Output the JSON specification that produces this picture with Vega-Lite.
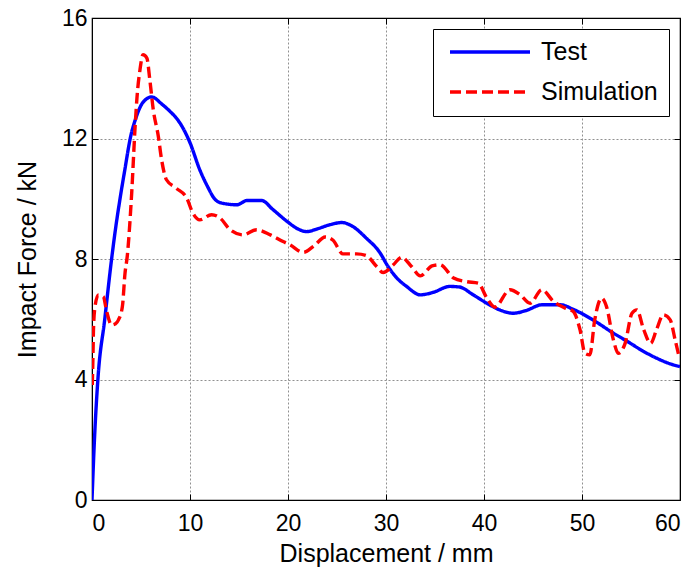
{
  "$schema": "https://vega.github.io/schema/vega-lite/v6.json",
  "width": 588,
  "height": 482,
  "autosize": {"type": "none"},
  "padding": {"left": 92, "top": 18, "right": 14, "bottom": 73},
  "background": "white",
  "config": {
    "font": "Liberation Sans",
    "view": {"stroke": "black", "strokeWidth": 1.2},
    "axis": {
      "labelFont": "Liberation Sans",
      "titleFont": "Liberation Sans",
      "labelFontSize": 23,
      "titleFontSize": 25,
      "titleFontWeight": "normal",
      "labelColor": "black",
      "titleColor": "black",
      "domainColor": "black",
      "tickColor": "black",
      "tickSize": -6,
      "gridColor": "#909090",
      "gridDash": [2, 2],
      "gridWidth": 1,
      "gridOpacity": 1
    },
    "legend": {
      "labelFont": "Liberation Sans",
      "labelFontSize": 25,
      "labelColor": "black"
    }
  },
  "data": {
    "values": [
      {"series": "Test", "x": 0, "y": 0},
      {"series": "Test", "x": 0.25, "y": 2},
      {"series": "Test", "x": 0.6, "y": 4},
      {"series": "Test", "x": 1.3, "y": 6},
      {"series": "Test", "x": 2.0, "y": 8},
      {"series": "Test", "x": 2.4, "y": 9},
      {"series": "Test", "x": 2.86, "y": 10},
      {"series": "Test", "x": 3.37, "y": 11},
      {"series": "Test", "x": 3.9, "y": 12},
      {"series": "Test", "x": 4.5, "y": 12.7},
      {"series": "Test", "x": 5.2, "y": 13.2},
      {"series": "Test", "x": 6.1, "y": 13.38},
      {"series": "Test", "x": 7.1, "y": 13.15},
      {"series": "Test", "x": 7.96, "y": 12.9},
      {"series": "Test", "x": 8.6, "y": 12.68},
      {"series": "Test", "x": 9.0, "y": 12.5},
      {"series": "Test", "x": 10.0, "y": 11.86},
      {"series": "Test", "x": 11.0, "y": 10.96},
      {"series": "Test", "x": 11.8, "y": 10.4},
      {"series": "Test", "x": 12.5, "y": 10.0},
      {"series": "Test", "x": 13.2, "y": 9.86},
      {"series": "Test", "x": 14.8, "y": 9.8},
      {"series": "Test", "x": 15.8, "y": 9.94},
      {"series": "Test", "x": 17.3, "y": 9.94},
      {"series": "Test", "x": 18.5, "y": 9.63},
      {"series": "Test", "x": 19.9, "y": 9.25},
      {"series": "Test", "x": 21.0, "y": 9.0},
      {"series": "Test", "x": 21.9, "y": 8.91},
      {"series": "Test", "x": 22.9, "y": 8.99},
      {"series": "Test", "x": 24.3, "y": 9.14},
      {"series": "Test", "x": 25.5, "y": 9.21},
      {"series": "Test", "x": 26.5, "y": 9.1},
      {"series": "Test", "x": 28.0, "y": 8.69},
      {"series": "Test", "x": 29.4, "y": 8.2},
      {"series": "Test", "x": 30.1, "y": 7.81},
      {"series": "Test", "x": 31.1, "y": 7.37},
      {"series": "Test", "x": 32.1, "y": 7.09},
      {"series": "Test", "x": 33.5, "y": 6.81},
      {"series": "Test", "x": 34.8, "y": 6.89},
      {"series": "Test", "x": 36.5, "y": 7.09},
      {"series": "Test", "x": 37.5, "y": 7.07},
      {"series": "Test", "x": 38.9, "y": 6.81},
      {"series": "Test", "x": 40.3, "y": 6.53},
      {"series": "Test", "x": 41.6, "y": 6.31},
      {"series": "Test", "x": 43.0, "y": 6.2},
      {"series": "Test", "x": 44.3, "y": 6.29},
      {"series": "Test", "x": 45.9, "y": 6.48},
      {"series": "Test", "x": 47.8, "y": 6.48},
      {"series": "Test", "x": 49.1, "y": 6.33},
      {"series": "Test", "x": 51.1, "y": 5.98},
      {"series": "Test", "x": 53.2, "y": 5.54},
      {"series": "Test", "x": 54.5, "y": 5.29},
      {"series": "Test", "x": 56.3, "y": 4.93},
      {"series": "Test", "x": 57.6, "y": 4.71},
      {"series": "Test", "x": 59.0, "y": 4.52},
      {"series": "Test", "x": 60.0, "y": 4.43},
      {"series": "Simulation", "x": 0.03, "y": 3.82},
      {"series": "Simulation", "x": 0.1, "y": 4.8},
      {"series": "Simulation", "x": 0.15, "y": 5.65},
      {"series": "Simulation", "x": 0.3, "y": 6.4},
      {"series": "Simulation", "x": 0.65, "y": 6.81},
      {"series": "Simulation", "x": 1.15, "y": 6.75},
      {"series": "Simulation", "x": 1.5, "y": 6.26},
      {"series": "Simulation", "x": 2.0, "y": 5.81},
      {"series": "Simulation", "x": 2.4, "y": 5.85},
      {"series": "Simulation", "x": 2.7, "y": 5.98},
      {"series": "Simulation", "x": 3.1, "y": 6.42},
      {"series": "Simulation", "x": 3.37, "y": 7.53},
      {"series": "Simulation", "x": 3.6, "y": 8.1},
      {"series": "Simulation", "x": 4.05, "y": 10.19},
      {"series": "Simulation", "x": 4.4, "y": 12.4},
      {"series": "Simulation", "x": 4.6, "y": 13.4},
      {"series": "Simulation", "x": 4.9, "y": 14.29},
      {"series": "Simulation", "x": 5.2, "y": 14.78},
      {"series": "Simulation", "x": 5.6, "y": 14.67},
      {"series": "Simulation", "x": 5.9, "y": 13.95},
      {"series": "Simulation", "x": 6.25, "y": 12.96},
      {"series": "Simulation", "x": 6.77, "y": 12.07},
      {"series": "Simulation", "x": 7.1, "y": 11.3},
      {"series": "Simulation", "x": 7.6, "y": 10.63},
      {"series": "Simulation", "x": 8.6, "y": 10.35},
      {"series": "Simulation", "x": 9.67, "y": 10.02},
      {"series": "Simulation", "x": 10.3, "y": 9.52},
      {"series": "Simulation", "x": 11.0, "y": 9.3},
      {"series": "Simulation", "x": 12.2, "y": 9.47},
      {"series": "Simulation", "x": 13.06, "y": 9.36},
      {"series": "Simulation", "x": 14.1, "y": 8.97},
      {"series": "Simulation", "x": 15.4, "y": 8.8},
      {"series": "Simulation", "x": 16.8, "y": 8.97},
      {"series": "Simulation", "x": 18.2, "y": 8.8},
      {"series": "Simulation", "x": 19.5, "y": 8.58},
      {"series": "Simulation", "x": 20.2, "y": 8.47},
      {"series": "Simulation", "x": 21.56, "y": 8.22},
      {"series": "Simulation", "x": 22.6, "y": 8.42},
      {"series": "Simulation", "x": 23.8, "y": 8.73},
      {"series": "Simulation", "x": 24.6, "y": 8.62},
      {"series": "Simulation", "x": 25.6, "y": 8.17},
      {"series": "Simulation", "x": 27.0, "y": 8.17},
      {"series": "Simulation", "x": 28.0, "y": 8.11},
      {"series": "Simulation", "x": 29.05, "y": 7.75},
      {"series": "Simulation", "x": 29.7, "y": 7.55},
      {"series": "Simulation", "x": 30.75, "y": 7.81},
      {"series": "Simulation", "x": 31.6, "y": 8.06},
      {"series": "Simulation", "x": 32.6, "y": 7.75},
      {"series": "Simulation", "x": 33.5, "y": 7.44},
      {"series": "Simulation", "x": 34.7, "y": 7.77},
      {"series": "Simulation", "x": 35.5, "y": 7.81},
      {"series": "Simulation", "x": 36.9, "y": 7.37},
      {"series": "Simulation", "x": 38.2, "y": 7.25},
      {"series": "Simulation", "x": 39.4, "y": 7.2},
      {"series": "Simulation", "x": 40.3, "y": 6.7},
      {"series": "Simulation", "x": 41.1, "y": 6.4},
      {"series": "Simulation", "x": 42.65, "y": 6.98},
      {"series": "Simulation", "x": 43.7, "y": 6.81},
      {"series": "Simulation", "x": 44.7, "y": 6.53},
      {"series": "Simulation", "x": 45.9, "y": 6.98},
      {"series": "Simulation", "x": 47.1, "y": 6.59},
      {"series": "Simulation", "x": 48.3, "y": 6.37},
      {"series": "Simulation", "x": 49.1, "y": 6.26},
      {"series": "Simulation", "x": 49.8, "y": 5.65},
      {"series": "Simulation", "x": 50.3, "y": 4.87},
      {"series": "Simulation", "x": 50.8, "y": 4.82},
      {"series": "Simulation", "x": 51.3, "y": 5.98},
      {"series": "Simulation", "x": 52.0, "y": 6.7},
      {"series": "Simulation", "x": 52.5, "y": 6.42},
      {"series": "Simulation", "x": 53.2, "y": 5.32},
      {"series": "Simulation", "x": 53.7, "y": 4.87},
      {"series": "Simulation", "x": 54.4, "y": 5.2},
      {"series": "Simulation", "x": 55.1, "y": 6.2},
      {"series": "Simulation", "x": 55.6, "y": 6.31},
      {"series": "Simulation", "x": 56.3, "y": 5.65},
      {"series": "Simulation", "x": 57.0, "y": 5.2},
      {"series": "Simulation", "x": 57.6, "y": 5.65},
      {"series": "Simulation", "x": 58.3, "y": 6.15},
      {"series": "Simulation", "x": 59.0, "y": 5.98},
      {"series": "Simulation", "x": 59.5, "y": 5.32},
      {"series": "Simulation", "x": 59.9, "y": 4.76}
    ]
  },
  "layer": [
    {
      "mark": {"type": "line", "strokeWidth": 3.4, "interpolate": "monotone", "clip": true},
      "encoding": {
        "x": {
          "field": "x", "type": "quantitative",
          "scale": {"domain": [0, 60], "nice": false, "zero": false},
          "axis": {"title": "Displacement / mm", "values": [0, 10, 20, 30, 40, 50, 60], "labelPadding": 18, "titlePadding": 6, "grid": true}
        },
        "y": {
          "field": "y", "type": "quantitative",
          "scale": {"domain": [0, 16], "nice": false, "zero": false},
          "axis": {"title": "Impact Force / kN", "values": [0, 4, 8, 12, 16], "labelPadding": 11, "titlePadding": 21, "grid": true}
        },
        "color": {
          "field": "series", "type": "nominal",
          "scale": {"domain": ["Test", "Simulation"], "range": ["#0000ff", "#ff0000"]},
          "legend": {
            "title": null,
            "orient": "top-right",
            "offset": 11,
            "strokeColor": "black",
            "fillColor": "white",
            "padding": 11,
            "symbolType": "stroke",
            "symbolSize": 6400,
            "symbolStrokeWidth": 3.4,
            "symbolOffset": 4,
            "clipHeight": 24,
            "rowPadding": 15,
            "labelOffset": 9,
            "cornerRadius": 0
          }
        },
        "strokeDash": {
          "field": "series", "type": "nominal",
          "scale": {"domain": ["Test", "Simulation"], "range": [[1, 0], [11, 5]]},
          "legend": null
        }
      }
    },
    {
      "mark": {"type": "point", "opacity": 0},
      "encoding": {
        "x": {
          "field": "x", "type": "quantitative",
          "axis": {"orient": "top", "title": null, "labels": false, "values": [0, 10, 20, 30, 40, 50, 60], "grid": false}
        },
        "y": {
          "field": "y", "type": "quantitative",
          "axis": {"orient": "right", "title": null, "labels": false, "values": [0, 4, 8, 12, 16], "grid": false}
        }
      }
    }
  ],
  "resolve": {"axis": {"x": "independent", "y": "independent"}}
}
